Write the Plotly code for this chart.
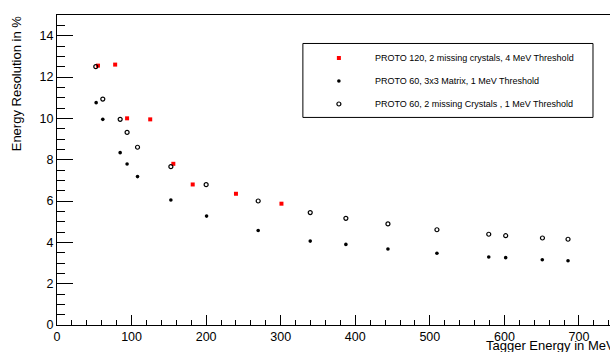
import plotly.graph_objects as go

# PROTO 120, 2 missing crystals, 4 MeV threshold
red_x = [55, 78, 94, 125, 156, 182, 240, 301]
red_y = [12.55, 12.6, 10.0, 9.95, 7.8, 6.8, 6.35, 5.87]

# PROTO 60, 3x3 matrix, 1 MeV threshold
blk_x = [52.5, 61.4, 84.7, 94, 108, 152.7, 200.6, 269.8, 339.6, 387.4, 443.8, 509.5, 579, 601.7, 650.8, 685.3]
blk_y = [10.76, 9.95, 8.34, 7.79, 7.18, 6.05, 5.27, 4.57, 4.06, 3.90, 3.68, 3.47, 3.29, 3.26, 3.16, 3.11]

# PROTO 60, 2 missing crystals, 1 MeV threshold
opn_x = [52, 61.4, 84.7, 94, 108, 152.7, 200, 269.8, 339.6, 387.4, 443.8, 509.5, 579, 601.7, 651, 685.3]
opn_y = [12.5, 10.93, 9.95, 9.32, 8.6, 7.66, 6.79, 6.0, 5.44, 5.16, 4.89, 4.61, 4.39, 4.32, 4.21, 4.15]

names = [
    "PROTO 120, 2 missing crystals, 4 MeV Threshold",
    "PROTO 60, 3x3 Matrix, 1 MeV Threshold",
    "PROTO 60, 2 missing Crystals , 1 MeV Threshold",
]

FONT = "Liberation Sans, Arial, Helvetica, sans-serif"

fig = go.Figure()
fig.add_trace(go.Scatter(x=red_x, y=red_y, mode="markers", name=names[0], legendgroup="a",
                         marker=dict(symbol="square", size=4, color="#ff0000")))
fig.add_trace(go.Scatter(x=blk_x, y=blk_y, mode="markers", name=names[1], legendgroup="b",
                         marker=dict(symbol="circle", size=3.6, color="black")))
fig.add_trace(go.Scatter(x=opn_x, y=opn_y, mode="markers", name=names[2], legendgroup="c",
                         marker=dict(symbol="circle-open", size=4, color="black", line=dict(width=1.2))))

W, H = 610, 352
L, R, T, B = 57.2, 0, 14.5, 27.3
pw = W - L - R
ph = H - T - B

def px2paper_x(px):
    return (px - L) / pw

def py2paper_y(py):
    return (H - B - py) / ph

fig.update_layout(
    width=W, height=H,
    margin=dict(l=L, r=R, t=T, b=B, pad=0),
    paper_bgcolor="white", plot_bgcolor="white",
    font=dict(family=FONT, color="black", size=12.5),
    showlegend=True,
    legend=dict(
        x=px2paper_x(303), y=py2paper_y(43), xanchor="left", yanchor="top",
        font=dict(size=9, family=FONT), itemwidth=62,
        bgcolor="rgba(0,0,0,0)", borderwidth=0,
        tracegroupgap=4, traceorder="grouped",
    ),
    xaxis=dict(
        range=[0, 741.6], showgrid=False, zeroline=False,
        showline=True, linecolor="black", linewidth=1, mirror=True,
        ticks="inside", ticklen=10, tickcolor="black", tickwidth=1,
        dtick=100, tick0=0,
        minor=dict(ticks="inside", ticklen=5, dtick=20, tickcolor="black", showgrid=False),
        tickfont=dict(size=12.5),
    ),
    yaxis=dict(
        range=[0, 15], showgrid=False, zeroline=False,
        showline=True, linecolor="black", linewidth=1,
        ticks="inside", ticklen=16, tickcolor="black", tickwidth=1,
        dtick=2, tick0=0,
        minor=dict(ticks="inside", ticklen=8, dtick=0.5, tickcolor="black", showgrid=False),
        tickfont=dict(size=12.5),
    ),
    shapes=[dict(type="rect", xref="paper", yref="paper",
                 x0=px2paper_x(303), x1=px2paper_x(593),
                 y0=py2paper_y(117), y1=py2paper_y(43),
                 line=dict(color="black", width=1), fillcolor="rgba(0,0,0,0)")],
    annotations=[
        dict(text="Energy Resolution in %", xref="paper", yref="paper",
             x=px2paper_x(17), y=py2paper_y(13), xanchor="center", yanchor="top",
             textangle=-90, showarrow=False, font=dict(size=13)),
        dict(text="Tagger Energy in MeV", xref="paper", yref="paper",
             x=px2paper_x(617), y=py2paper_y(345), xanchor="right", yanchor="middle",
             showarrow=False, font=dict(size=13)),
    ],
)

fig.write_html(
    "out.html",
    config={"displayModeBar": False},
    post_script="document.body.style.margin='0';document.body.style.padding='0';document.body.style.overflow='hidden';",
)
